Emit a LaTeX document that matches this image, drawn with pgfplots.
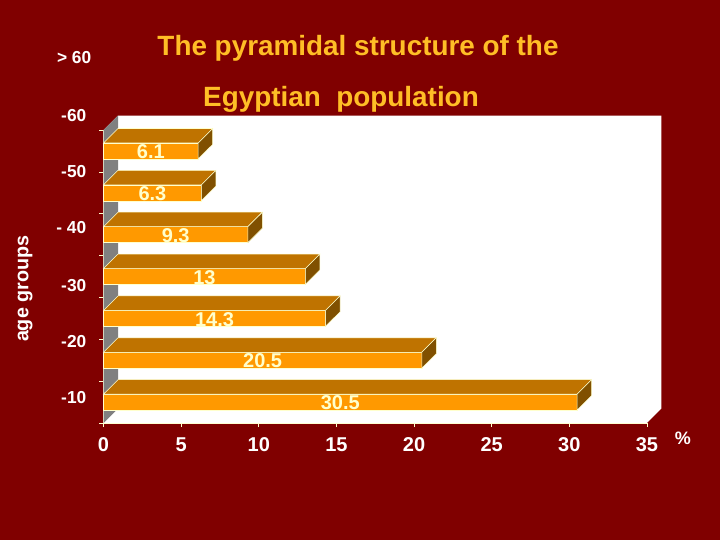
\documentclass[border=0pt]{standalone}
\usepackage{fontspec}
\setmainfont{Liberation Sans}
\usepackage{pgfplots}
\pgfplotsset{compat=1.18}
\definecolor{bg}{HTML}{800000}
\definecolor{barfront}{HTML}{FF9900}
\definecolor{bartop}{HTML}{BF7300}
\definecolor{barside}{HTML}{805000}
\definecolor{wallgray}{HTML}{808080}
\definecolor{edge}{HTML}{FFFFCC}
\definecolor{titlecol}{HTML}{FFBE26}

\begin{document}
\begin{tikzpicture}[x=0.75pt,y=0.75pt]
% page background, units are reference pixels (y counted from the bottom)
\fill[bg] (0,0) rectangle (720,540);
\useasboundingbox (0,0) rectangle (720,540);

\node[font=\bfseries\fontsize{20.9pt}{22pt}\selectfont,text=titlecol] at (358,492) {The pyramidal structure of the};
\node[font=\bfseries\fontsize{20.9pt}{22pt}\selectfont,text=titlecol] at (341,441) {Egyptian\ \ population};

% age group labels do not sit on the ticks in the original
\begin{scope}[every node/.style={font=\bfseries\fontsize{13pt}{15pt}\selectfont,text=white,anchor=east}]
\node at (96,482) {> 60};
\node at (91,424) {-60};
\node at (91,368) {-50};
\node at (91,312) {- 40};
\node at (91,254) {-30};
\node at (91,198) {-20};
\node at (91,142) {-10};
\end{scope}

\begin{axis}[
  at={(77.625pt,87.75pt)},
  scale only axis,
  width=407.6pt, height=219.75pt,
  xmin=0, xmax=35, ymin=0, ymax=7,
  clip=false,
  axis x line*=bottom, axis y line*=left,
  axis line style={edge,-,line width=0.5pt},
  xtick={0,5,...,35},
  ytick={0,1,...,7}, yticklabels={},
  tick align=outside,
  tick style={edge,line width=0.5pt},
  major tick length=3pt,
  ticklabel style={text=white,font=\bfseries\fontsize{15pt}{17pt}\selectfont},
  /pgf/number format/assume math mode=true,
  xticklabel style={yshift=-4.4pt},
  xlabel={\%},
  ylabel={age groups},
  every axis x label/.style={at={(axis description cs:1.066,-0.052)},anchor=center,text=white,font=\bfseries\fontsize{13.5pt}{15pt}\selectfont},
  every axis y label/.style={at={(axis description cs:-0.144,0.458)},rotate=90,anchor=center,text=white,font=\bfseries\fontsize{14.8pt}{15pt}\selectfont},
]
% white walls and floor
\addplot[fill=white,draw=none,forget plot] coordinates {(0,0) (35,0) (35.934,0.346) (35.934,7.346) (0.934,7.346) (0,7)} -- cycle;
\addplot[fill=wallgray,draw=none,forget plot] coordinates {(0,0) (0.934,0.346) (0.934,7.346) (0,7)} -- cycle;

% bars: front faces
\addplot[xbar,bar width=12pt,bar shift=0pt,fill=barfront,draw=edge,line width=0.4pt] coordinates {
  (30.5,0.5) (20.5,1.5) (14.3,2.5) (13,3.5) (9.3,4.5) (6.3,5.5) (6.1,6.5)
};

% top faces
\pgfplotsset{every axis plot/.append style={draw=edge,line width=0.4pt,mark=none}}
\addplot[fill=bartop] coordinates {(0,0.69) (30.5,0.69) (31.434,1.036) (0.934,1.036)} -- cycle;
\addplot[fill=bartop] coordinates {(0,1.69) (20.5,1.69) (21.434,2.036) (0.934,2.036)} -- cycle;
\addplot[fill=bartop] coordinates {(0,2.69) (14.3,2.69) (15.234,3.036) (0.934,3.036)} -- cycle;
\addplot[fill=bartop] coordinates {(0,3.69) (13,3.69) (13.934,4.036) (0.934,4.036)} -- cycle;
\addplot[fill=bartop] coordinates {(0,4.69) (9.3,4.69) (10.234,5.036) (0.934,5.036)} -- cycle;
\addplot[fill=bartop] coordinates {(0,5.69) (6.3,5.69) (7.234,6.036) (0.934,6.036)} -- cycle;
\addplot[fill=bartop] coordinates {(0,6.69) (6.1,6.69) (7.034,7.036) (0.934,7.036)} -- cycle;

% side faces
\addplot[fill=barside] coordinates {(30.5,0.31) (31.434,0.656) (31.434,1.036) (30.5,0.69)} -- cycle;
\addplot[fill=barside] coordinates {(20.5,1.31) (21.434,1.656) (21.434,2.036) (20.5,1.69)} -- cycle;
\addplot[fill=barside] coordinates {(14.3,2.31) (15.234,2.656) (15.234,3.036) (14.3,2.69)} -- cycle;
\addplot[fill=barside] coordinates {(13,3.31) (13.934,3.656) (13.934,4.036) (13,3.69)} -- cycle;
\addplot[fill=barside] coordinates {(9.3,4.31) (10.234,4.656) (10.234,5.036) (9.3,4.69)} -- cycle;
\addplot[fill=barside] coordinates {(6.3,5.31) (7.234,5.656) (7.234,6.036) (6.3,5.69)} -- cycle;
\addplot[fill=barside] coordinates {(6.1,6.31) (7.034,6.656) (7.034,7.036) (6.1,6.69)} -- cycle;

% value labels, centred on the bars
\addplot[draw=none,point meta=explicit symbolic,
  nodes near coords,
  nodes near coords align=center,
  every node near coord/.style={text=edge,font=\bfseries\fontsize{15pt}{17pt}\selectfont,anchor=center}]
  coordinates {
  (15.25,0.48)[30.5] (10.25,1.48)[20.5] (7.15,2.48)[14.3] (6.5,3.48)[13] (4.65,4.48)[9.3] (3.15,5.48)[6.3] (3.05,6.48)[6.1]
};
\end{axis}
\end{tikzpicture}
\end{document}
